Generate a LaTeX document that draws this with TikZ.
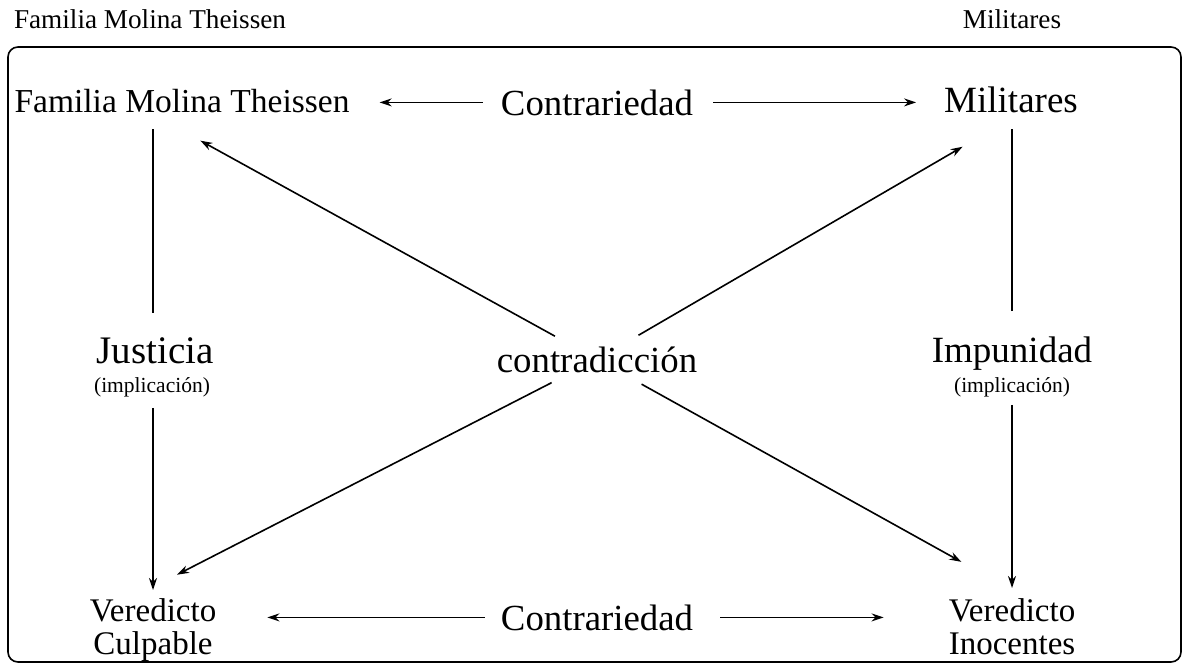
\documentclass[tikz,border=0pt]{standalone}
\usepackage{fontspec}
\setmainfont{Liberation Serif}
\usetikzlibrary{arrows.meta}
\newcommand{\letra}[1]{\fontsize{#1}{33}\selectfont}

\begin{document}
\begin{tikzpicture}[x=1pt, y=-1pt,
		txt/.style={inner sep=0pt, anchor=base},
		doble/.style={inner sep=0pt, anchor=north, align=center},
		linea/.style={line width=1.6pt},
		flecha/.style={line width=1.6pt, -{Stealth[length=12pt,width=8pt]}}]
			%%%%% START %%%%%
			\useasboundingbox (0, 0) rectangle (1182, 664);
			
			\node[txt, font=\letra{27.2}] (tituloF) at (150, 28) {Familia Molina Theissen};
			\node[txt, font=\letra{27.2}] (tituloM) at (1012, 28) {Militares};
			
			\draw[line width=1.6pt, rounded corners=10pt] (8, 47) rectangle (1181, 662);
			
			\node[txt, font=\letra{33.5}] (fmt) at (182, 112) {Familia Molina Theissen};
			\node[txt, font=\letra{36.8}] (ctop) at (597, 115) {Contrariedad};
			\node[txt, font=\letra{37}] (mil) at (1011, 112) {Militares};
			
			\node[txt, font=\letra{39}] (just) at (155, 363) {Justicia};
			\node[txt, font=\letra{21.5}] (justimp) at (152, 392) {(implicación)};
			\node[txt, font=\letra{36.8}] (contra) at (597, 372) {contradicción};
			\node[txt, font=\letra{37}] (imp) at (1012, 362) {Impunidad};
			\node[txt, font=\letra{21.5}] (impimp) at (1012, 392) {(implicación)};
			
			\node[doble, font=\letra{33}] (vc) at (153, 598) {Veredicto\\Culpable};
			\node[txt, font=\letra{36.8}] (cbot) at (597, 630) {Contrariedad};
			\node[doble, font=\letra{33}] (vi) at (1012, 598) {Veredicto\\Inocentes};
			
			% contrariedad
			\draw[flecha, shorten <=18pt, shorten >=30pt] (ctop.west) -- (ctop.west -| fmt.east);
			\draw[flecha, shorten <=20pt, shorten >=28pt] (ctop.east) -- (ctop.east -| mil.west);
			\draw[flecha, shorten <=16pt, shorten >=51pt] (cbot.west) -- (cbot.west -| vc.east);
			\draw[flecha, shorten <=27pt, shorten >=65pt] (cbot.east) -- (cbot.east -| vi.west);
			
			% implicacion
			\draw[linea, shorten <=24pt, shorten >=16pt] (just.north -| vc.north) -- (fmt.south -| vc.north);
			\draw[flecha, shorten <=11pt, shorten >=8pt] (justimp.south -| vc.north) -- (vc.north);
			\draw[linea, shorten <=25pt, shorten >=16pt] (imp.north) -- (imp.north |- mil.south);
			\draw[flecha, shorten <=8pt, shorten >=10pt] (impimp.south) -- (vi.north);
			
			% contradiccion
			\draw[flecha, shorten <=48pt, shorten >=21pt] (contra.center) -- ([yshift=-18pt]fmt.south);
			\draw[flecha, shorten <=48pt, shorten >=56pt] (contra.center) -- ([yshift=-6pt]mil.south);
			\draw[flecha, shorten <=51pt, shorten >=27pt] (contra.center) -- ([yshift=11pt]vc.north);
			\draw[flecha, shorten <=51pt, shorten >=58pt] (contra.center) -- ([yshift=8pt]vi.north);
			
			%%%%% END %%%%%
		\end{tikzpicture}
\end{document}
